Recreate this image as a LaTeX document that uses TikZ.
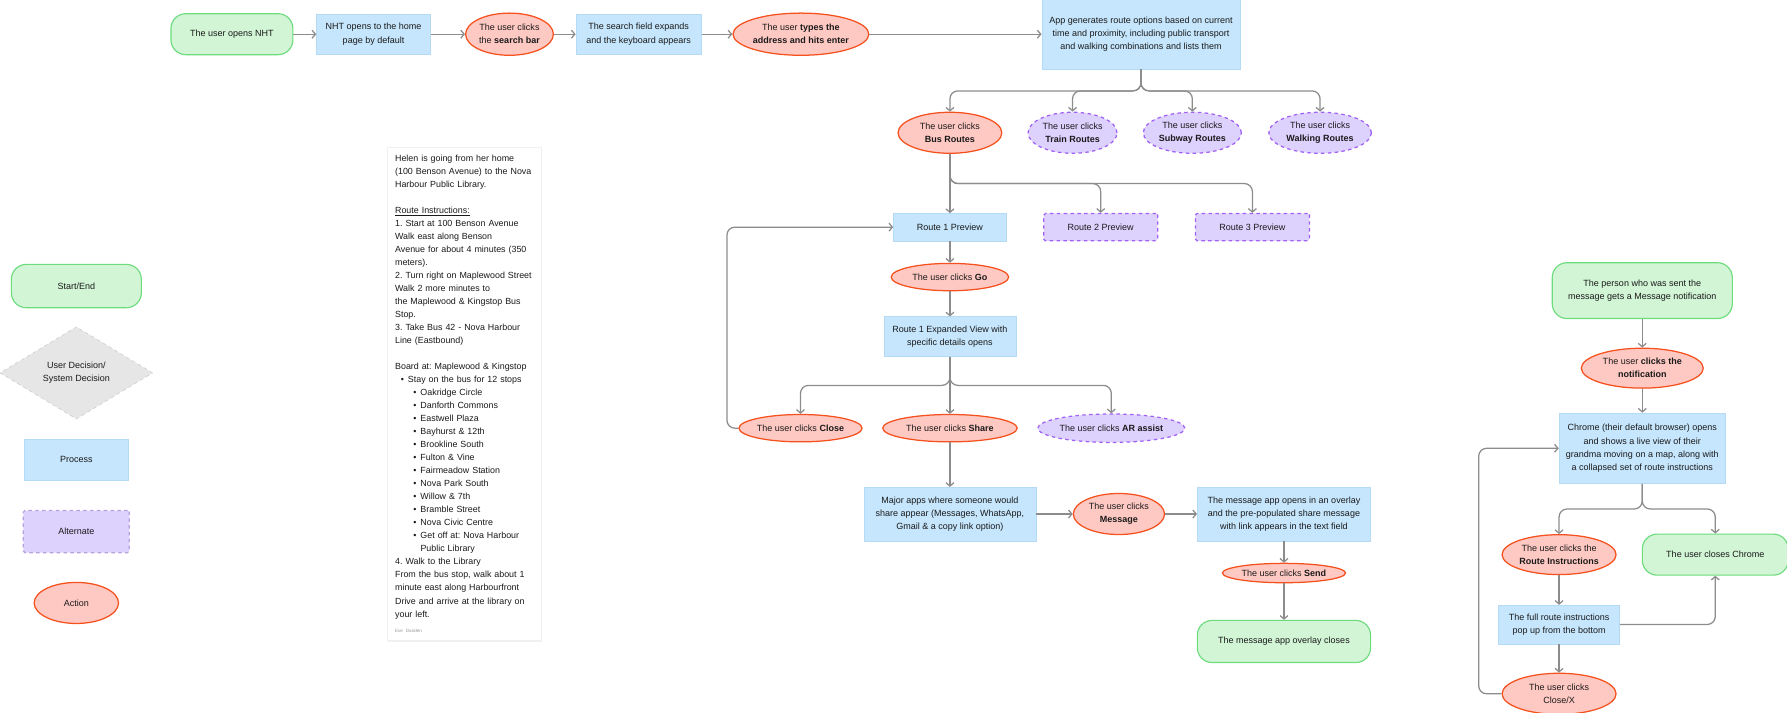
\documentclass[tikz,border=0pt]{standalone}
\usepackage{fontspec}
\setmainfont{Liberation Sans}
\usetikzlibrary{positioning, shapes.geometric, arrows.meta, shadows}
\frenchspacing

\definecolor{startfill}{HTML}{D2F5D6}
\definecolor{startline}{HTML}{6CDC7C}
\definecolor{procfill}{HTML}{C6E6FD}
\definecolor{procline}{HTML}{B4DAF5}
\definecolor{actfill}{HTML}{FFC9C3}
\definecolor{actline}{HTML}{F4511E}
\definecolor{altfill}{HTML}{DDD1FE}
\definecolor{altline}{HTML}{A060F4}
\definecolor{legendalt}{HTML}{B4A2DA}
\definecolor{decfill}{HTML}{E6E6E6}
\definecolor{decline}{HTML}{C6C6C6}
\definecolor{linegray}{HTML}{8C8C8C}
\definecolor{ink}{HTML}{1A1A1A}

\begin{document}
\begin{tikzpicture}[x=1pt, y=-1pt, node distance=20pt, >={Straight Barb[length=3pt,width=7pt]}]
                    \tikzstyle{every node}=[font=\fontsize{7.9}{11.5}\selectfont, text=ink]
                    \tikzstyle{startend}=[draw=startline, fill=startfill, line width=1pt, rounded corners=13pt, align=center]
                    \tikzstyle{process}=[draw=procline, fill=procfill, line width=0.5pt, align=center]
                    \tikzstyle{action}=[ellipse, draw=actline, fill=actfill, line width=1.1pt, align=center, inner sep=0pt]
                    \tikzstyle{altclick}=[ellipse, draw=altline, fill=altfill, line width=1.1pt, dashed, align=center, inner sep=0pt]
                    \tikzstyle{altbox}=[draw=altline, fill=altfill, line width=1.1pt, dashed, rounded corners=1.5pt, align=center]
                    \tikzstyle{decision}=[diamond, draw=decline, fill=decfill, dashed, align=center, inner sep=0pt]
                    \tikzstyle{connector}=[->, draw=linegray, line width=1.1pt, rounded corners=7pt]
                    \tikzstyle{card}=[fill=white, draw=black!6, align=left, text width=122pt, inner sep=6.5pt, font=\fontsize{7.8}{11.43}\selectfont, drop shadow={opacity=0.12, shadow xshift=0pt, shadow yshift=-1.5pt}]
                    \useasboundingbox (0,0) rectangle (1568,625);

                    % legend
                    \node (key start)    [startend, minimum width=114pt, minimum height=38pt] at (67,251) {Start/End};
                    \node (key decision) [decision, minimum width=134pt, minimum height=81pt, below=16pt of key start] {User Decision/\\System Decision};
                    \node (key process)  [process, minimum width=91pt, minimum height=36pt, below=17pt of key decision] {Process};
                    \node (key alt)      [altbox, draw=legendalt, minimum width=93pt, minimum height=37pt, below=26pt of key process] {Alternate};
                    \node (key action)   [action, minimum width=74pt, minimum height=36pt, below=25pt of key alt] {Action};

                    % scenario card
                    \node (notes) [card, anchor=north west] at (340,129) {Helen is going from her home\\
                    (100 Benson Avenue) to the Nova\\
                    Harbour Public Library.\\[11.43pt]
                    \underline{Route Instructions:}\\
                    1. Start at 100 Benson Avenue\\
                    Walk east along Benson\\
                    Avenue for about 4 minutes (350\\
                    meters).\\
                    2. Turn right on Maplewood Street\\
                    Walk 2 more minutes to\\
                    the Maplewood \& Kingstop Bus\\
                    Stop.\\
                    3. Take Bus 42 - Nova Harbour\\
                    Line (Eastbound)\\[11.43pt]
                    Board at: Maplewood \& Kingstop\\
                    \hspace*{5pt}\textbullet\hspace{3.5pt}Stay on the bus for 12 stops\\
                    \hspace*{16pt}\textbullet\hspace{3.5pt}Oakridge Circle\\
                    \hspace*{16pt}\textbullet\hspace{3.5pt}Danforth Commons\\
                    \hspace*{16pt}\textbullet\hspace{3.5pt}Eastwell Plaza\\
                    \hspace*{16pt}\textbullet\hspace{3.5pt}Bayhurst \& 12th\\
                    \hspace*{16pt}\textbullet\hspace{3.5pt}Brookline South\\
                    \hspace*{16pt}\textbullet\hspace{3.5pt}Fulton \& Vine\\
                    \hspace*{16pt}\textbullet\hspace{3.5pt}Fairmeadow Station\\
                    \hspace*{16pt}\textbullet\hspace{3.5pt}Nova Park South\\
                    \hspace*{16pt}\textbullet\hspace{3.5pt}Willow \& 7th\\
                    \hspace*{16pt}\textbullet\hspace{3.5pt}Bramble Street\\
                    \hspace*{16pt}\textbullet\hspace{3.5pt}Nova Civic Centre\\
                    \hspace*{16pt}\textbullet\hspace{3.5pt}Get off at: Nova Harbour\\
                    \hspace*{22.3pt}Public Library\\
                    4. Walk to the Library\\
                    From the bus stop, walk about 1\\
                    minute east along Harbourfront\\
                    Drive and arrive at the library on\\
                    your left.\\[2pt]
                    {\fontsize{4}{5}\selectfont\color{ink!45}Eve Danden}};

                    % opening the app
                    \node (open)     [startend, minimum width=107pt, minimum height=36pt] at (203.5,30) {The user opens NHT};
                    \node (home)     [process, minimum width=100pt, minimum height=35pt, right=20pt of open]   {NHT opens to the home\\page by default};
                    \node (search)   [action, minimum width=77pt, minimum height=37pt, right=30pt of home]     {The user clicks\\the \textbf{search bar}};
                    \node (expand)   [process, minimum width=110pt, minimum height=35pt, right=19pt of search] {The search field expands\\and the keyboard appears};
                    \node (typed)    [action, minimum width=116pt, minimum height=37pt, right=27pt of expand]  {The user \textbf{types the}\\\textbf{address and hits enter}};
                    \node (routes)   [process, minimum width=174pt, minimum height=61pt, right=151pt of typed] {App generates route options based on current\\time and proximity, including public transport\\and walking combinations and lists them};

                    % route choice
                    \node (bus)      [action, minimum width=91pt, minimum height=36pt] at (833.5,116.5)         {The user clicks\\\textbf{Bus Routes}};
                    \node (train)    [altclick, minimum width=78pt, minimum height=36pt, right=22pt of bus]    {The user clicks\\\textbf{Train Routes}};
                    \node (subway)   [altclick, minimum width=86pt, minimum height=36pt, right=22pt of train]  {The user clicks\\\textbf{Subway Routes}};
                    \node (walking)  [altclick, minimum width=90pt, minimum height=36pt, right=23pt of subway]  {The user clicks\\\textbf{Walking Routes}};

                    \node (route 1)  [process, minimum width=99pt, minimum height=24pt, below=52pt of bus]     {Route 1 Preview};
                    \node (route 2)  [altbox, minimum width=100pt, minimum height=24pt, right=32pt of route 1] {Route 2 Preview};
                    \node (route 3)  [altbox, minimum width=100pt, minimum height=24pt, right=32pt of route 2] {Route 3 Preview};
                    \node (go)       [action, minimum width=103pt, minimum height=24pt, below=19pt of route 1] {The user clicks \textbf{Go}};
                    \node (expanded) [process, minimum width=116pt, minimum height=35pt, below=22pt of go]     {Route 1 Expanded View with\\specific details opens};
                    \node (share)    [action, minimum width=118pt, minimum height=24pt, below=50pt of expanded] {The user clicks \textbf{Share}};
                    \node (close)    [action, minimum width=107pt, minimum height=24pt, left=17pt of share]    {The user clicks \textbf{Close}};
                    \node (ar)       [altclick, minimum width=129pt, minimum height=25pt, right=17pt of share] {The user clicks \textbf{AR assist}};

                    % sharing
                    \node (apps)     [process, minimum width=151pt, minimum height=47pt, below=39pt of share]  {Major apps where someone would\\share appear (Messages, WhatsApp,\\Gmail \& a copy link option)};
                    \node (message)  [action, minimum width=80pt, minimum height=36pt, right=32pt of apps]     {The user clicks\\\textbf{Message}};
                    \node (overlay)  [process, minimum width=152pt, minimum height=47pt, right=28pt of message] {The message app opens in an overlay\\and the pre-populated share message\\with link appears in the text field};
                    \node (send)     [action, minimum width=108pt, minimum height=17pt, below=19pt of overlay] {The user clicks \textbf{Send}};
                    \node (closed)   [startend, minimum width=152pt, minimum height=37pt, below=32pt of send] {The message app overlay closes};

                    % receiver
                    \node (person)   [startend, minimum width=158pt, minimum height=49pt] at (1441,255)         {The person who was sent the\\message gets a Message notification};
                    \node (notif)    [action, minimum width=107pt, minimum height=35pt, below=25pt of person]  {The user \textbf{clicks the}\\\textbf{notification}};
                    \node (chrome)   [process, minimum width=146pt, minimum height=62pt, below=21pt of notif]  {Chrome (their default browser) opens\\and shows a live view of their\\grandma moving on a map, along with\\a collapsed set of route instructions};
                    \node (instr)    [action, minimum width=100pt, minimum height=35pt, below=44pt of chrome, xshift=-73pt] {The user clicks the\\\textbf{Route Instructions}};
                    \node (quit)     [startend, minimum width=128pt, minimum height=36pt, right=22pt of instr] {The user closes Chrome};
                    \node (full)     [process, minimum width=106pt, minimum height=34pt, below=26pt of instr]  {The full route instructions\\pop up from the bottom};
                    \node (closex)   [action, minimum width=100pt, minimum height=36pt, below=25pt of full]    {The user clicks\\Close/X};

                    \draw [connector] (open) -- (home);
                    \draw [connector] (home) -- (search);
                    \draw [connector] (search) -- (expand);
                    \draw [connector] (expand) -- (typed);
                    \draw [connector] (typed) -- (routes);
                    \draw [connector] (routes.south) -- ++(0,19) -| (bus);
                    \draw [connector] (routes.south) -- ++(0,19) -| (train);
                    \draw [connector] (routes.south) -- ++(0,19) -| (subway);
                    \draw [connector] (routes.south) -- ++(0,19) -| (walking);
                    \draw [connector] (bus) -- (route 1);
                    \draw [connector] (bus.south) -- ++(0,26) -| (route 2);
                    \draw [connector] (bus.south) -- ++(0,26) -| (route 3);
                    \draw [connector] (route 1) -- (go);
                    \draw [connector] (go) -- (expanded);
                    \draw [connector] (expanded.south) -- ++(0,25) -| (close);
                    \draw [connector] (expanded) -- (share);
                    \draw [connector] (expanded.south) -- ++(0,25) -| (ar);
                    \draw [connector] (close.west) -- ++(-10,0) |- (route 1.west);
                    \draw [connector] (share) -- (apps);
                    \draw [connector] (apps) -- (message);
                    \draw [connector] (message) -- (overlay);
                    \draw [connector] (overlay) -- (send);
                    \draw [connector] (send) -- (closed);
                    \draw [connector] (person) -- (notif);
                    \draw [connector] (notif) -- (chrome);
                    \draw [connector] (chrome.south) -- ++(0,22) -| (instr);
                    \draw [connector] (chrome.south) -- ++(0,22) -| (quit);
                    \draw [connector] (instr) -- (full);
                    \draw [connector] (full) -- (closex);
                    \draw [connector] (full) -| (quit);
                    \draw [connector] (closex.west) -- ++(-20,0) |- (chrome.west);
                \end{tikzpicture}
\end{document}
